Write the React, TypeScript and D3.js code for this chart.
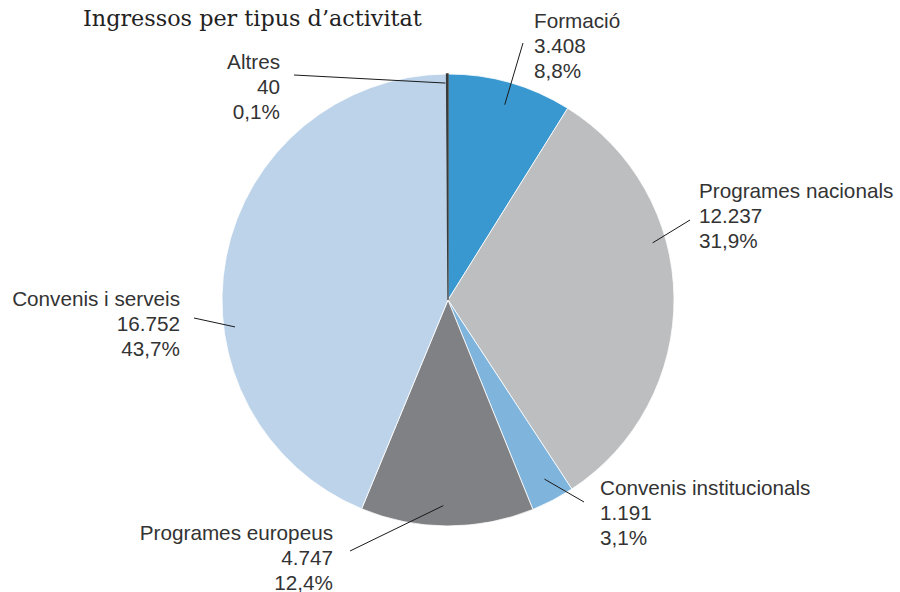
import React from "react";
import * as d3 from "d3";

const categories = ["Formació", "Programes nacionals", "Convenis institucionals", "Programes europeus", "Convenis i serveis", "Altres"];
const values = [3408, 12237, 1191, 4747, 16752, 40];
const percents = [8.8, 31.9, 3.1, 12.4, 43.7, 0.1];
const colors = ["#3a98d0", "#bdbec0", "#7fb4dd", "#808184", "#bcd3ea", "#3a3a3a"];
const title = "Ingressos per tipus d’activitat";

// label placement (annotation layout)
const labelLayout = [
  { angle: 16.2, rf: 0.9, ox: 523, oy: 43, tx: 534, ty: 28, anchor: "start" },
  { angle: 74.4, rf: 0.94, ox: 690, oy: 220, tx: 699, ty: 198, anchor: "start" },
  { angle: 151.7, rf: 0.9, ox: 584, oy: 502, tx: 600, ty: 495, anchor: "start" },
  { angle: 181.3, rf: 0.91, ox: 350, oy: 551, tx: 333, ty: 540, anchor: "end" },
  { angle: 262.8, rf: 0.95, ox: 194, oy: 318, tx: 180, ty: 306, anchor: "end" },
  { angle: 359.3, rf: 0.96, ox: 294, oy: 75, tx: 280, ty: 69, anchor: "end" },
];

const W = 900, H = 592;
const cx = 448, cy = 300, R = 226;
const lineH = 25;

const locale = d3.formatLocale({ decimal: ",", thousands: ".", grouping: [3], currency: ["", "€"] });
const fmtInt = locale.format(",d");
const fmtPct = locale.format(".1f");

export default function App() {
  const pie = d3.pie<number>().value((d) => d).sort(null).startAngle(0).endAngle(2 * Math.PI);
  const arcs = pie(values);
  const arc = d3.arc<d3.PieArcDatum<number>>().innerRadius(0).outerRadius(R);

  return (
    <svg width={W} height={H} style={{ position: "absolute", left: 0, top: 0, background: "#fff" }}>
      <text x={83} y={26} fontFamily="'DejaVu Serif', serif" fontSize={22.3} fill="#222">{title}</text>
      <g transform={`translate(${cx},${cy})`}>
        {arcs.map((a, i) => (
          <path key={i} d={arc(a) || ""} fill={colors[i]}
            stroke={i === 5 ? colors[i] : "#ffffff"} strokeWidth={i === 5 ? 1.3 : 0.8} strokeLinejoin="miter" />
        ))}
      </g>
      {labelLayout.map((L, i) => {
        const ang = (L.angle * Math.PI) / 180;
        const ix = cx + Math.sin(ang) * R * L.rf;
        const iy = cy - Math.cos(ang) * R * L.rf;
        return (
          <g key={i}>
            <line x1={ix} y1={iy} x2={L.ox} y2={L.oy} stroke="#1a1a1a" strokeWidth={1} />
            <text x={L.tx} y={L.ty} textAnchor={L.anchor as any} fontFamily="'Liberation Sans', Arial, sans-serif" fontSize={20.7} fill="#333">
              <tspan x={L.tx} dy={0}>{categories[i]}</tspan>
              <tspan x={L.tx} dy={lineH}>{fmtInt(values[i])}</tspan>
              <tspan x={L.tx} dy={lineH}>{fmtPct(percents[i])}%</tspan>
            </text>
          </g>
        );
      })}
    </svg>
  );
}
